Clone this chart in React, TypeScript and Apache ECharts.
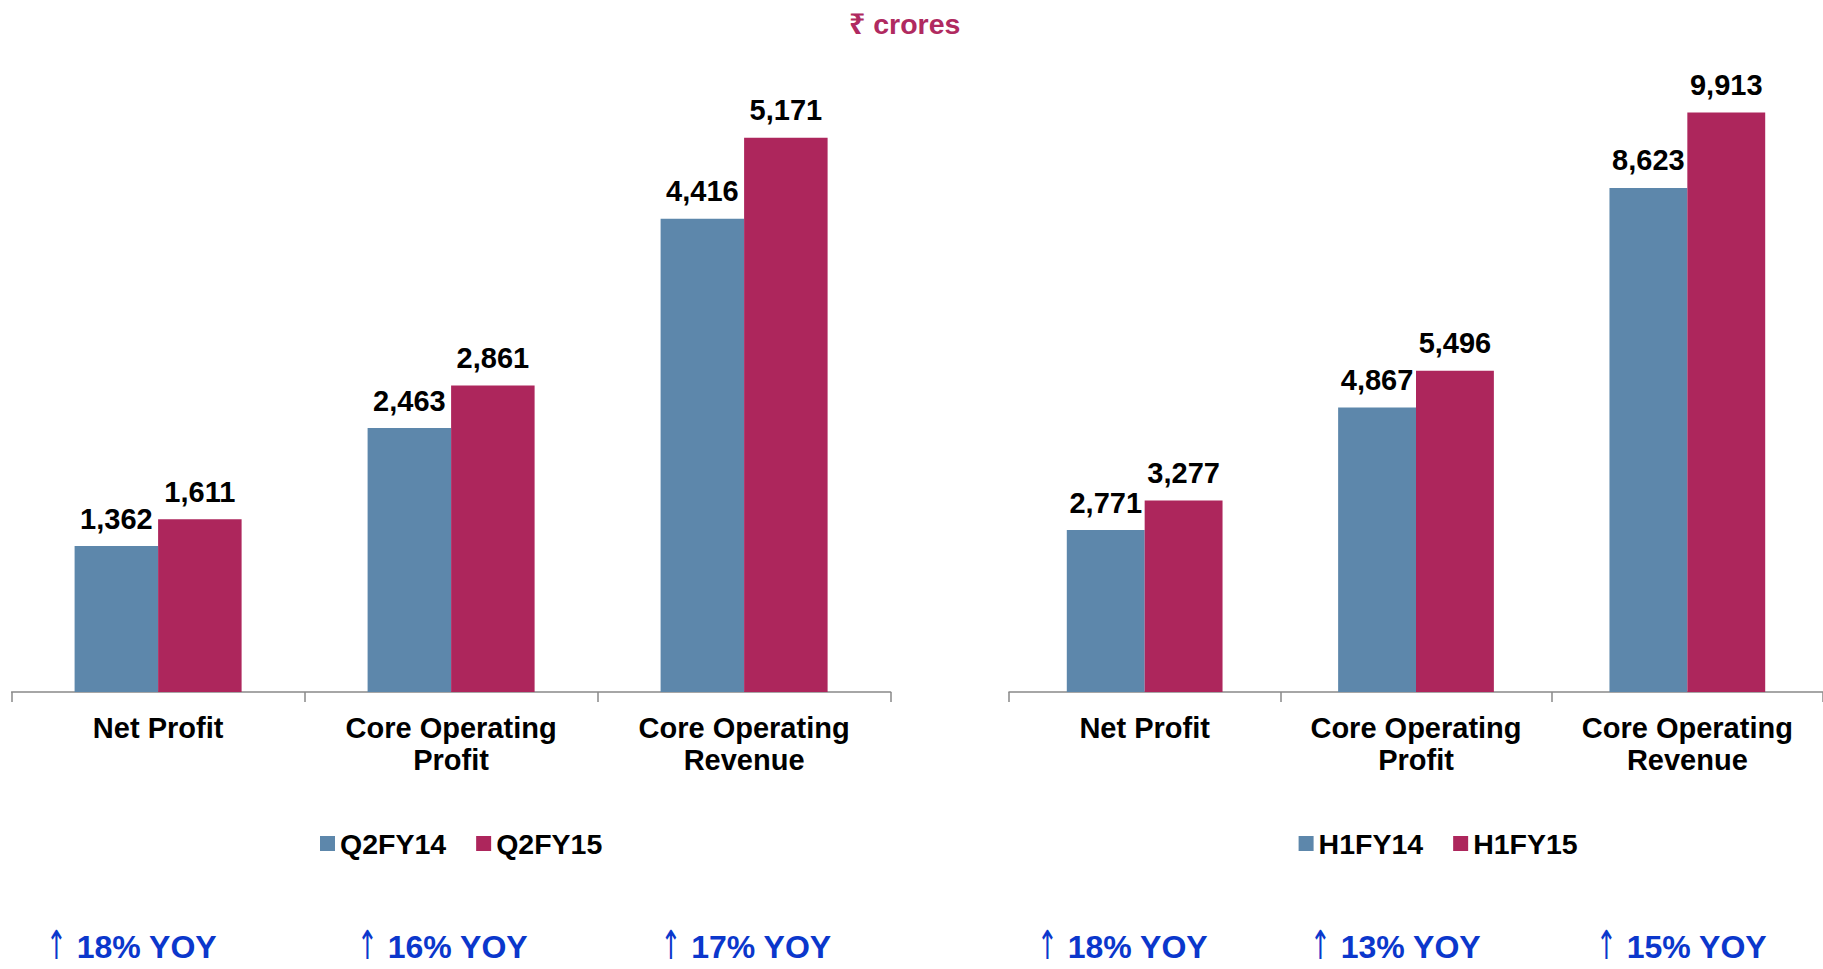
import React, { useEffect, useRef } from "react";
import * as echarts from "echarts";

const categories = ["Net Profit", "Core Operating\nProfit", "Core Operating\nRevenue"];
const q2fy14 = [1362, 2463, 4416];
const q2fy15 = [1611, 2861, 5171];
const h1fy14 = [2771, 4867, 8623];
const h1fy15 = [3277, 5496, 9913];
const seriesNamesLeft = ["Q2FY14", "Q2FY15"];
const seriesNamesRight = ["H1FY14", "H1FY15"];
const yoyLeft = ["18% YOY", "16% YOY", "17% YOY"];
const yoyRight = ["18% YOY", "13% YOY", "15% YOY"];
const yoyX = [47, 358, 661.5, 1038, 1311, 1597];

const BLUE = "#5D87AB";
const CRIMSON = "#AD265C";
const YOY_BLUE = "#0B37CC";
const FONT = "'Liberation Sans', Arial, 'Noto Sans', 'DejaVu Sans', sans-serif";

export default function App() {
  const ref = useRef<HTMLDivElement>(null);
  useEffect(() => {
    if (!ref.current) return;
    const chart = echarts.init(ref.current, null, { renderer: "svg" });
    const fmt = (p: any) => Number(p.value).toLocaleString("en-US");
    const label = {
      show: true,
      position: "top",
      distance: 13,
      color: "#000",
      fontWeight: "bold",
      fontSize: 29,
      fontFamily: FONT,
      formatter: fmt,
    };
    const xAxisCommon = {
      type: "category",
      data: categories,
      boundaryGap: true,
      axisLine: { show: true, lineStyle: { color: "#898989", width: 1.5 } },
      axisTick: { show: true, length: 10, inside: false, lineStyle: { color: "#898989", width: 1.5 } },
      axisLabel: {
        color: "#000",
        fontWeight: "bold",
        fontSize: 29,
        fontFamily: FONT,
        lineHeight: 32,
        margin: 20,
        interval: 0,
      },
      splitLine: { show: false },
    };
    const yoyAll = [...yoyLeft, ...yoyRight];
    const graphics: any[] = [];
    yoyAll.forEach((t, i) => {
      graphics.push({
        type: "text",
        x: yoyX[i] + 9.5,
        y: 945.5,
        scaleX: 0.62,
        style: {
          text: "↑",
          fill: YOY_BLUE,
          font: `normal 40px 'DejaVu Sans', sans-serif`,
          textAlign: "center",
          textVerticalAlign: "middle",
        },
      });
      graphics.push({
        type: "text",
        x: yoyX[i] + 29.7,
        y: 947,
        style: {
          text: t,
          fill: YOY_BLUE,
          font: `bold 32px ${FONT}`,
          textVerticalAlign: "middle",
        },
      });
    });
    chart.setOption({
      animation: false,
      backgroundColor: "#fff",
      title: {
        text: "₹ crores",
        left: 849,
        top: 9,
        padding: 0,
        textStyle: { color: "#B02A60", fontWeight: "bold", fontSize: 28.5, fontFamily: FONT },
      },
      legend: [
        {
          data: seriesNamesLeft,
          left: 320,
          top: 829,
          padding: 0,
          icon: "rect",
          itemWidth: 15,
          itemHeight: 15,
          itemGap: 30,
          textStyle: { color: "#000", fontWeight: "bold", fontSize: 28.5, fontFamily: FONT },
        },
        {
          data: seriesNamesRight,
          left: 1298.6,
          top: 829,
          padding: 0,
          icon: "rect",
          itemWidth: 15,
          itemHeight: 15,
          itemGap: 30,
          textStyle: { color: "#000", fontWeight: "bold", fontSize: 28.5, fontFamily: FONT },
        },
      ],
      grid: [
        { left: 11.6, top: 49, width: 879, height: 643, containLabel: false },
        { left: 1009, top: 49, width: 820, height: 643, containLabel: false },
      ],
      xAxis: [
        { ...xAxisCommon, gridIndex: 0 },
        { ...xAxisCommon, gridIndex: 1 },
      ],
      yAxis: [
        { type: "value", gridIndex: 0, min: 0, max: 6000, show: false, splitLine: { show: false } },
        { type: "value", gridIndex: 1, min: 0, max: 11000, show: false, splitLine: { show: false } },
      ],
      series: [
        {
          name: seriesNamesLeft[0], type: "bar", xAxisIndex: 0, yAxisIndex: 0, data: q2fy14,
          barGap: "0%", barCategoryGap: "43%", itemStyle: { color: BLUE }, label,
        },
        {
          name: seriesNamesLeft[1], type: "bar", xAxisIndex: 0, yAxisIndex: 0, data: q2fy15,
          barGap: "0%", barCategoryGap: "43%", itemStyle: { color: CRIMSON }, label,
        },
        {
          name: seriesNamesRight[0], type: "bar", xAxisIndex: 1, yAxisIndex: 1, data: h1fy14,
          barGap: "0%", barCategoryGap: "42.6%", itemStyle: { color: BLUE }, label,
        },
        {
          name: seriesNamesRight[1], type: "bar", xAxisIndex: 1, yAxisIndex: 1, data: h1fy15,
          barGap: "0%", barCategoryGap: "42.6%", itemStyle: { color: CRIMSON }, label,
        },
      ],
      graphic: graphics,
    });
    return () => chart.dispose();
  }, []);
  return (
    <div
      ref={ref}
      style={{ position: "fixed", left: 0, top: 0, width: 1823, height: 969, background: "#fff" }}
    />
  );
}
